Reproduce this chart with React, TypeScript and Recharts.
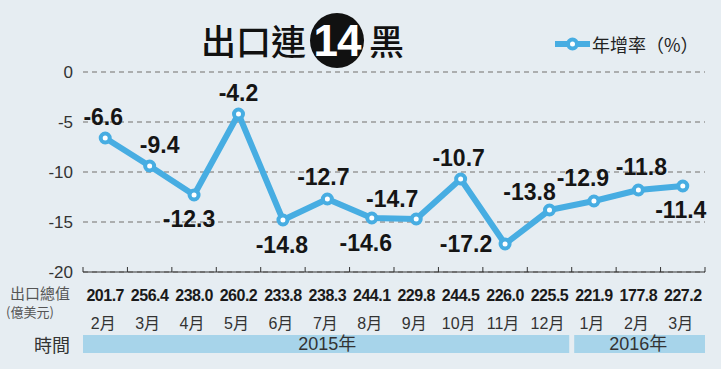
import React from 'react';
import { LineChart, Line, XAxis, YAxis, CartesianGrid } from 'recharts';

const months = ['2月', '3月', '4月', '5月', '6月', '7月', '8月', '9月', '10月', '11月', '12月', '1月', '2月', '3月'];
const years = ['2015年', '2015年', '2015年', '2015年', '2015年', '2015年', '2015年', '2015年', '2015年', '2015年', '2015年', '2016年', '2016年', '2016年'];
const growthRate = [-6.6, -9.4, -12.3, -4.2, -14.8, -12.7, -14.6, -14.7, -10.7, -17.2, -13.8, -12.9, -11.8, -11.4];
const exportTotals = ['201.7', '256.4', '238.0', '260.2', '233.8', '238.3', '244.1', '229.8', '244.5', '226.0', '225.5', '221.9', '177.8', '227.2'];
const yTicks = [0, -5, -10, -15, -20];
const labelOffsets: [number, number][] = [
  [-2, -21], [10, -21], [-5, 24], [0, -21], [-1, 25], [-4, -22], [-6, 25],
  [-24, -20], [-2, -21], [-39, 0], [-20, -18], [-11, -23], [3, -23], [-2, 24],
];

const data = months.map((m, i) => ({ key: String(i), month: m, year: years[i], growth: growthRate[i], total: exportTotals[i] }));

const BLUE = '#47ade2';
const BAND = '#a7d4ea';
const BG = '#e6edf2';
const NUM_FONT = '"Liberation Sans Narrow", "Liberation Sans", Arial, sans-serif';
const SANS = '"Liberation Sans", "Noto Sans CJK TC", sans-serif';
const CJK = '"Noto Sans CJK TC", sans-serif';

const PointLabel = (props: any) => {
  const { x, y, value, index } = props;
  const [dx, dy] = labelOffsets[index] ?? [0, -21];
  return (
    <text x={x + dx} y={y + dy} textAnchor="middle" dominantBaseline="central"
      fontFamily={NUM_FONT} fontWeight="bold" fontSize={23} fill="#151515">
      {value}
    </text>
  );
};

const MonthTick = (props: any) => {
  const { x, y, index, width, visibleTicksCount } = props;
  const n = visibleTicksCount || months.length;
  const bw = (width || 622) / n;
  const d = data[index];
  const els: React.ReactNode[] = [];
  els.push(<line key="tl" x1={x - bw / 2} x2={x - bw / 2} y1={y} y2={y - 5} stroke="#333" strokeWidth={1} />);
  if (index === n - 1) {
    els.push(<line key="tr" x1={x + bw / 2} x2={x + bw / 2} y1={y} y2={y - 5} stroke="#333" strokeWidth={1} />);
  }
  const isFirst = index === 0 || years[index - 1] !== d.year;
  if (isFirst) {
    const group = years.map((yr, j) => (yr === d.year ? j : -1)).filter((j) => j >= 0);
    const first = group[0];
    const last = group[group.length - 1];
    const mid = group[Math.floor(group.length / 2)];
    const gapL = first > 0 ? 2.5 : 0;
    const gapR = last < n - 1 ? 2.5 : 0;
    const x0 = x - bw / 2 + gapL;
    const x1 = x + (last - index) * bw + bw / 2 - gapR;
    els.push(<rect key="band" x={x0} y={y + 63} width={x1 - x0} height={18} fill={BAND} />);
    els.push(
      <text key="yr" x={x + (mid - index) * bw} y={y + 72} textAnchor="middle" dominantBaseline="central"
        fontFamily={SANS} fontSize={18} fill="#333">{d.year}</text>
    );
  }
  els.push(
    <text key="val" x={x} y={y + 23} textAnchor="middle" dominantBaseline="central"
      fontFamily={NUM_FONT} fontWeight="bold" fontSize={16} letterSpacing={-0.5} fill="#1a1a1a">{d.total}</text>
  );
  els.push(
    <text key="mon" x={x - 2} y={y + 51} textAnchor="middle" dominantBaseline="central"
      fontFamily={SANS} fontSize={16} fill="#333">{d.month}</text>
  );
  return <g>{els}</g>;
};

export default function App() {
  return (
    <div style={{ position: 'relative', width: 721, height: 369, background: BG, overflow: 'hidden' }}>
      <style>{'body{margin:0}'}</style>
      <LineChart width={721} height={369} data={data} margin={{ top: 72, right: 16, bottom: 0, left: 0 }}>
        <CartesianGrid horizontal vertical={false} stroke="#999" strokeDasharray="5 4" strokeWidth={1.5} />
        <YAxis domain={[-20, 0]} ticks={yTicks} width={83} axisLine={false} tickLine={false} tickSize={0} tickMargin={10}
          tick={{ fontFamily: SANS, fontSize: 17, fill: '#333' }} interval={0} />
        <XAxis dataKey="key" scale="band" height={97} interval={0} axisLine={{ stroke: '#333', strokeWidth: 1 }} tickLine={false}
          tickSize={0} tickMargin={0} tick={<MonthTick />} />
        <Line type="linear" dataKey="growth" stroke={BLUE} strokeWidth={6} strokeLinejoin="round"
          dot={{ r: 4.5, fill: '#fff', stroke: BLUE, strokeWidth: 4 }} activeDot={false}
          isAnimationActive={false} label={<PointLabel />} />
      </LineChart>

      {/* title */}
      <div style={{ position: 'absolute', left: 201, top: 18, fontFamily: CJK, fontSize: 35, fontWeight: 500, color: '#111', lineHeight: '44px', whiteSpace: 'nowrap' }}>出口連</div>
      <div style={{ position: 'absolute', left: 310, top: 13, width: 54, height: 55, borderRadius: '50%', background: '#111',
        color: '#fff', fontFamily: NUM_FONT, fontWeight: 'bold', fontSize: 44, display: 'flex', alignItems: 'center', justifyContent: 'center', letterSpacing: -1 }}>14</div>
      <div style={{ position: 'absolute', left: 369, top: 18, fontFamily: CJK, fontSize: 35, fontWeight: 500, color: '#111', lineHeight: '44px' }}>黑</div>

      {/* legend */}
      <div style={{ position: 'absolute', left: 554, top: 31, display: 'flex', alignItems: 'center' }}>
        <svg width={37} height={24}>
          <line x1={1} x2={36} y1={12} y2={12} stroke={BLUE} strokeWidth={6} />
          <circle cx={18.5} cy={12} r={4.5} fill="#fff" stroke={BLUE} strokeWidth={4} />
        </svg>
        <span style={{ fontFamily: CJK, fontSize: 18, color: '#222', marginLeft: 1, whiteSpace: 'nowrap' }}>年增率（%）</span>
      </div>

      {/* row headers */}
      <div style={{ position: 'absolute', right: 651, top: 285, fontFamily: CJK, fontSize: 15, color: '#555', lineHeight: '16px', whiteSpace: 'nowrap' }}>出口總值</div>
      <div style={{ position: 'absolute', left: 6, top: 305, fontFamily: CJK, fontSize: 13, color: '#555', lineHeight: '14px', whiteSpace: 'nowrap' }}>(億美元)</div>
      <div style={{ position: 'absolute', right: 651, top: 332, fontFamily: CJK, fontSize: 18, color: '#333', lineHeight: '24px', whiteSpace: 'nowrap' }}>時間</div>
    </div>
  );
}
